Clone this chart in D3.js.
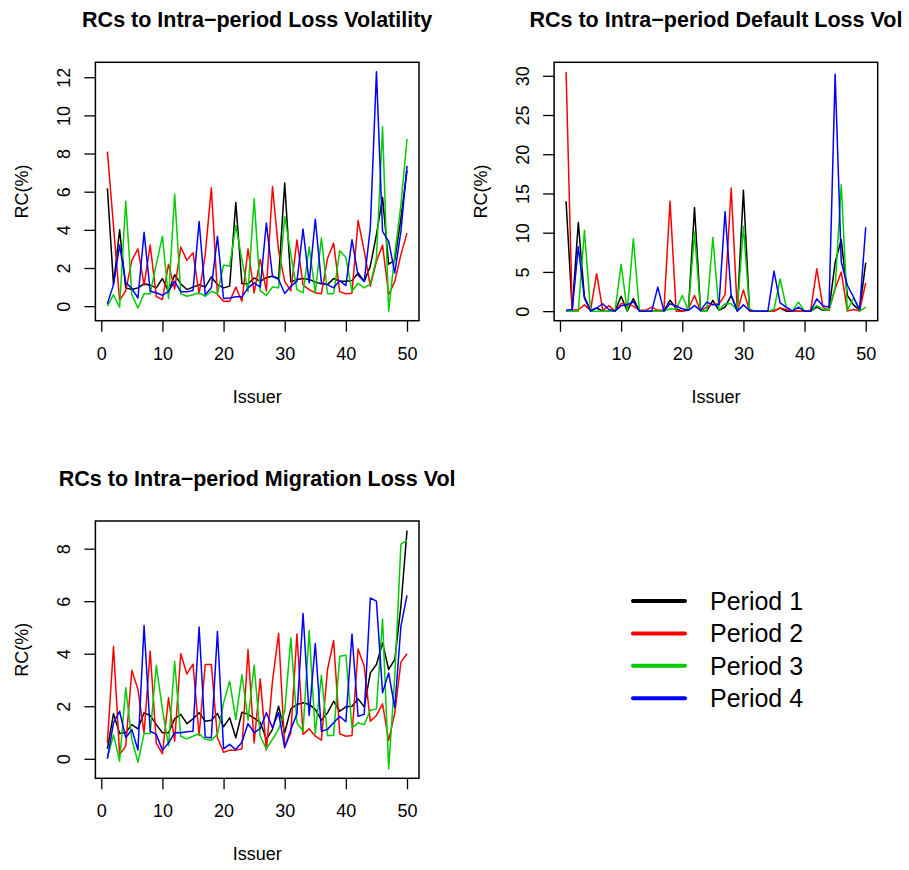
<!DOCTYPE html>
<html>
<head>
<meta charset="utf-8">
<script src="https://cdn.jsdelivr.net/npm/d3@7"></script>
<style>
  body { margin: 0; background: #fff; }
  svg { display: block; font-family: "Liberation Sans", Arial, Helvetica, sans-serif; }
</style>
</head>
<body>
<svg width="909" height="870"></svg>
<script>
// issuers 1..50
var issuers = d3.range(1, 51);

var periodNames = ["Period 1", "Period 2", "Period 3", "Period 4"];
var periodColors = ["#000000", "#FF0000", "#00CD00", "#0000FF"];

// RCs to intra-period loss volatility (%)
var lossP1 = [6.18,1.13,4.0,0.96,0.87,0.96,1.17,1.1,0.96,1.45,0.75,1.65,1.17,0.87,1.0,1.13,1.0,1.53,1.13,0.96,1.05,5.44,1.17,1.17,1.48,1.3,1.5,1.57,1.45,6.45,1.27,1.4,1.45,1.4,1.27,1.17,1.13,1.45,1.3,1.3,1.34,1.74,1.3,2.1,3.75,5.7,2.2,2.4,4.6,7.1];
var lossP2 = [8.1,4.2,0.3,0.8,2.4,3.0,1.1,3.2,0.5,0.35,2.2,0.9,3.1,2.4,2.8,0.65,2.7,6.2,0.6,0.26,0.26,1.0,0.26,3.0,0.7,2.45,0.8,6.27,2.9,1.3,0.8,3.47,1.1,0.87,0.7,0.65,2.5,3.3,0.75,0.65,0.68,4.5,2.9,1.05,2.35,3.2,0.6,1.3,2.7,3.83];
var lossP3 = [0.0,0.6,-0.05,5.5,0.6,-0.1,0.65,0.65,2.2,3.66,0.4,5.87,0.65,0.52,0.6,0.7,0.52,0.78,0.65,2.15,2.1,4.23,2.44,0.75,5.63,0.8,0.57,1.0,0.96,4.7,2.7,0.87,0.7,3.1,0.7,3.57,0.65,0.65,2.9,2.56,0.78,1.2,0.96,1.17,2.5,9.4,-0.26,2.7,5.3,8.76];
var lossP4 = [0.12,1.13,3.2,1.25,0.92,0.43,3.87,0.78,0.7,0.57,0.78,1.3,0.75,0.75,0.82,4.44,0.6,0.96,3.66,0.4,0.43,0.49,0.49,0.96,1.22,1.0,4.36,1.57,1.4,0.66,1.05,1.3,4.04,1.22,4.56,1.22,1.13,0.96,1.34,1.08,3.48,1.62,1.3,4.1,12.28,3.92,3.4,1.74,3.92,7.35];

// RCs to intra-period default loss vol (%)
var defP1 = [14.0,0.1,11.3,1.8,0.1,0.4,0,0,0,1.9,0,1.6,0,0,0,0,0,1.4,0.3,0,0.1,13.2,0,0,1.36,0.1,0.5,2.0,0.1,15.4,0.1,0,0,0,0,0.4,0,0,0,0,0,0.5,0.1,0.2,6.2,9.1,2.0,0.8,0.1,6.17];
var defP2 = [30.5,0.1,0.2,0.8,0.1,4.77,0.1,0.7,0,0.94,0.94,0.64,0.1,0.1,0.5,0.1,0.1,14.0,0,0,0.3,2.0,0,0.5,0.9,0.9,2.1,15.7,0,2.7,0,0,0,0,0,0.4,0.2,0,0,0,0.1,5.4,0.5,0.1,2.85,5.0,0,0.2,0,3.6];
var defP3 = [0,0,0,10.3,0,0,0,0,0,5.96,0,9.23,0,0,0,0,0,0.3,0.2,2.0,0.1,10.1,0,0,9.4,0.1,0.94,0.94,0.1,10.8,0.2,0,0,0,0.2,4.1,0.5,0,1.15,0,0,0.7,0.2,0.2,3.0,16.1,0.1,1.7,0,0.5];
var defP4 = [0.1,0.2,8.2,1.66,0,0.4,0.94,0.2,0,0.7,0.8,1.2,0,0,0,3.06,0,0.94,0.64,0.3,0.1,0.7,0.1,1.15,0.8,0.8,12.7,2.0,0,0.8,0.1,0,0,0,5.1,1.06,0.5,0,0.5,0,0,1.57,0.7,0.5,30.2,6.26,3.3,1.8,0.2,10.7];

// RCs to intra-period migration loss vol (%)
var migP1 = [0.38,1.72,0.96,1.0,1.3,1.14,1.75,1.65,1.3,0.99,0.99,1.52,1.69,1.34,1.52,1.75,1.43,1.47,1.72,1.22,1.56,0.8,1.77,1.69,1.55,1.39,0.74,1.12,2.0,0.99,1.9,2.07,2.13,2.07,1.88,1.47,1.75,2.19,1.81,1.98,2.0,2.28,1.98,3.27,3.59,4.41,3.4,3.78,5.8,8.69];
var migP2 = [0.6,4.28,0.16,0.48,3.37,2.64,0.99,4.1,0.6,0.19,2.32,0.67,4.0,3.23,3.6,0.89,3.59,3.59,0.8,0.25,0.33,0.32,0.38,4.16,0.6,3.04,0.33,2.95,4.77,0.46,0.99,4.75,0.93,1.14,0.86,0.71,3.4,4.5,0.95,0.86,0.89,4.18,3.52,1.43,1.65,2.09,0.7,1.75,3.68,4.0];
var migP3 = [0.04,0.91,-0.09,2.7,0.74,-0.13,0.96,0.96,3.55,1.88,0.5,3.71,0.86,0.76,0.86,0.96,0.74,0.71,0.93,2.13,2.95,1.5,3.2,1.47,3.56,0.86,0.38,0.74,1.12,1.81,4.6,1.37,1.05,4.88,0.96,3.18,0.89,0.89,3.9,3.94,1.18,1.37,1.3,1.85,1.9,5.32,-0.38,3.14,8.17,8.31];
var migP4 = [0.0,1.37,1.81,0.8,1.11,0.33,5.07,1.05,0.93,0.33,0.6,1.0,0.99,1.03,1.05,5.02,0.82,0.8,4.85,0.38,0.55,0.35,0.63,1.34,1.0,1.15,1.75,1.18,1.75,0.42,1.12,1.71,5.53,1.65,4.39,1.05,1.12,1.37,1.62,1.41,4.75,1.62,1.69,6.12,6.0,2.51,3.27,1.94,5.04,6.22];

var xTicks = [0, 10, 20, 30, 40, 50];
var lossTicks = [0, 2, 4, 6, 8, 10, 12];
var defTicks = [0, 5, 10, 15, 20, 25, 30];
var migTicks = [0, 2, 4, 6, 8];

var svg = d3.select("svg");

// R style axis range: data range + 4% each side
function padded(ext) {
    var d = (ext[1] - ext[0]) * 0.04;
    return [ext[0] - d, ext[1] + d];
}

function drawPanel(title, series, yTicks, box) {
    var g = svg.append("g");
    var x = d3.scaleLinear()
        .domain(padded(d3.extent(issuers)))
        .range([box.left, box.right]);
    var all = d3.merge(series);
    var y = d3.scaleLinear()
        .domain(padded(d3.extent(all)))
        .range([box.bottom, box.top]);

    var line = d3.line()
        .x(function(d, i) { return x(issuers[i]); })
        .y(function(d) { return y(d); });

    series.forEach(function(s, k) {
        g.append("path")
            .datum(s)
            .attr("fill", "none")
            .attr("stroke", periodColors[k])
            .attr("stroke-width", 1.5)
            .attr("stroke-linejoin", "round")
            .attr("d", line);
    });

    // box
    g.append("rect")
        .attr("x", box.left).attr("y", box.top)
        .attr("width", box.right - box.left)
        .attr("height", box.bottom - box.top)
        .attr("fill", "none").attr("stroke", "#000").attr("stroke-width", 1.5);

    // x axis
    var ax = g.append("g")
        .attr("transform", "translate(0," + box.bottom + ")")
        .call(d3.axisBottom(x).tickValues(xTicks).tickSize(11).tickSizeOuter(0));
    ax.select(".domain").remove();
    ax.selectAll("line").attr("stroke", "#000").attr("stroke-width", 1.3);
    ax.selectAll("text")
        .attr("y", 39).attr("dy", 0)
        .attr("font-size", 18).attr("fill", "#000");

    // y axis
    var ay = g.append("g")
        .attr("transform", "translate(" + box.left + ",0)")
        .call(d3.axisLeft(y).tickValues(yTicks).tickSize(11).tickSizeOuter(0));
    ay.select(".domain").remove();
    ay.selectAll("line").attr("stroke", "#000").attr("stroke-width", 1.3);
    ay.selectAll("text")
        .attr("x", 0).attr("dy", 0).attr("y", 0)
        .attr("transform", "translate(-25,0) rotate(-90)")
        .attr("text-anchor", "middle")
        .attr("font-size", 18).attr("fill", "#000");

    var cx = (box.left + box.right) / 2;
    var cy = (box.top + box.bottom) / 2;

    g.append("text")
        .attr("x", cx).attr("y", box.top - 35.5)
        .attr("text-anchor", "middle")
        .attr("font-size", 21.5).attr("font-weight", "bold")
        .text(title);

    g.append("text")
        .attr("x", cx).attr("y", box.bottom + 82)
        .attr("text-anchor", "middle")
        .attr("font-size", 18)
        .text("Issuer");

    g.append("text")
        .attr("transform", "translate(" + (box.left - 67) + "," + cy + ") rotate(-90)")
        .attr("text-anchor", "middle")
        .attr("font-size", 18)
        .text("RC(%)");
}

drawPanel("RCs to Intra\u2212period Loss Volatility",
    [lossP1, lossP2, lossP3, lossP4], lossTicks,
    { left: 95.4, right: 419, top: 62.3, bottom: 320.7 });

drawPanel("RCs to Intra\u2212period Default Loss Vol",
    [defP1, defP2, defP3, defP4], defTicks,
    { left: 554.1, right: 877.7, top: 62.3, bottom: 320.7 });

drawPanel("RCs to Intra\u2212period Migration Loss Vol",
    [migP1, migP2, migP3, migP4], migTicks,
    { left: 95.4, right: 419, top: 521, bottom: 778.3 });

// legend
var legend = svg.append("g").attr("transform", "translate(633,601)");
periodNames.forEach(function(name, k) {
    var row = legend.append("g").attr("transform", "translate(0," + (k * 32.4) + ")");
    row.append("line")
        .attr("x1", 0).attr("x2", 52).attr("y1", 0).attr("y2", 0)
        .attr("stroke", periodColors[k]).attr("stroke-width", 4)
        .attr("stroke-linecap", "round");
    row.append("text")
        .attr("x", 77).attr("y", 0).attr("dy", "0.36em")
        .attr("font-size", 25)
        .text(name);
});
</script>
</body>
</html>
